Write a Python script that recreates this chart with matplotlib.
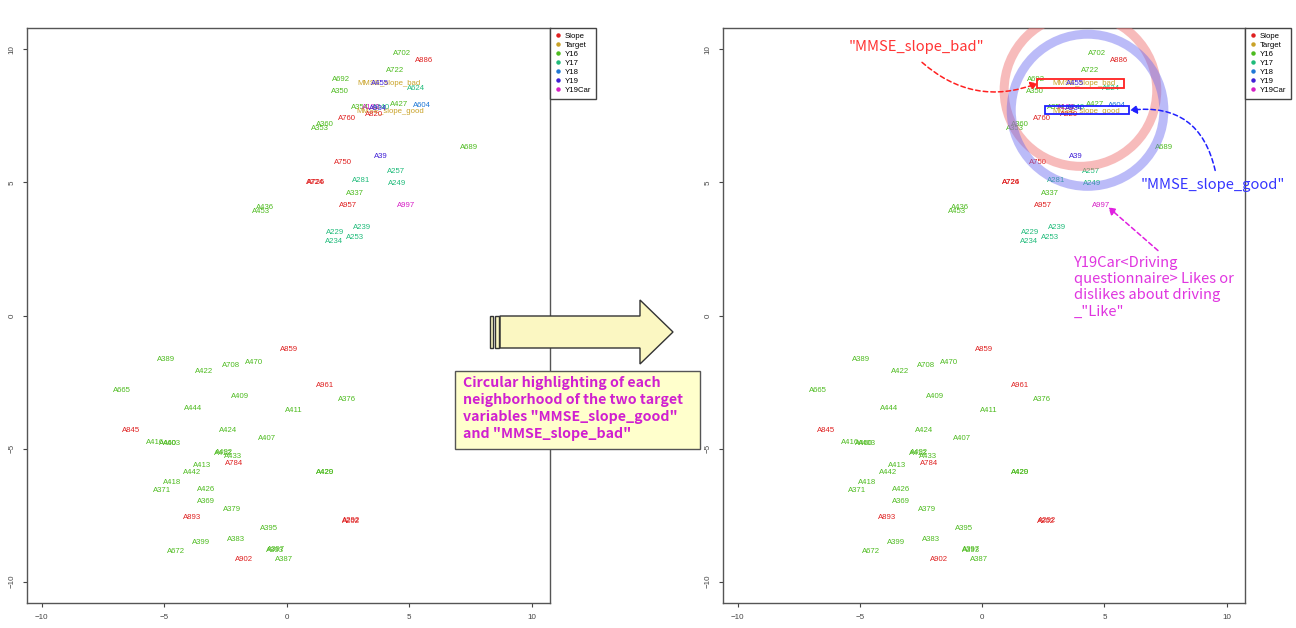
import matplotlib
matplotlib.use("Agg")
import matplotlib.pyplot as plt
from matplotlib.lines import Line2D
from matplotlib.patches import Ellipse, Rectangle, Polygon, FancyArrowPatch

plt.rcParams['font.family'] = ['Liberation Sans', 'DejaVu Sans']

# ---------------- data ----------------
groups = ["Slope", "Target", "Y16", "Y17", "Y18", "Y19", "Y19Car"]
group_colors = ["#DF2020", "#C9A227", "#4DBB1F", "#1FBB7A", "#1F78D6", "#3F1FD6", "#D61FC5"]

labels = ["A702", "A886", "A722", "A692", "MMSE_slope_bad", "A455", "A350", "A624",
          "A427", "A604", "A354", "A240", "MMSE_slope_good", "A193", "A934", "A820",
          "A760", "A360", "A353", "A689", "A39", "A750", "A257", "A724", "A726",
          "A281", "A249", "A337", "A957", "A997", "A436", "A453", "A229", "A239",
          "A234", "A253",
          "A859", "A389", "A708", "A470", "A422", "A665", "A961", "A376", "A409",
          "A444", "A411", "A845", "A424", "A407", "A416", "A460", "A403", "A432",
          "A412", "A433", "A784", "A413", "A420", "A429", "A442", "A418", "A371",
          "A426", "A369", "A379", "A893", "A292", "A202", "A395", "A399", "A383",
          "A672", "A397", "A393", "A902", "A387"]
x_vals = [4.69, 5.59, 4.41, 2.20, 4.16, 3.80, 2.16, 5.27,
          4.61, 5.51, 3.00, 3.85, 4.24, 3.45, 3.75, 3.55,
          2.45, 1.55, 1.35, 7.43, 3.84, 2.29, 4.45, 1.18, 1.20,
          3.02, 4.49, 2.78, 2.49, 4.86, -0.90, -1.05, 1.96, 3.06,
          1.92, 2.78,
          0.08, -4.94, -2.29, -1.35, -3.35, -6.73, 1.55, 2.45, -1.92,
          -3.80, 0.29, -6.37, -2.37, -0.82, -5.39, -4.85, -4.70, -2.57,
          -2.60, -2.20, -2.16, -3.47, 1.55, 1.57, -3.84, -4.69, -5.10,
          -3.31, -3.31, -2.24, -3.88, 2.65, 2.62, -0.73, -3.51, -2.08,
          -4.53, -0.45, -0.47, -1.76, -0.12]
y_vals = [9.85, 9.59, 9.21, 8.87, 8.72, 8.72, 8.42, 8.53,
          7.93, 7.89, 7.82, 7.82, 7.67, 7.80, 7.78, 7.55,
          7.41, 7.18, 7.03, 6.32, 5.98, 5.75, 5.41, 5.00, 5.00,
          5.08, 4.96, 4.59, 4.14, 4.14, 4.06, 3.92, 3.12, 3.31,
          2.78, 2.93,
          -1.28, -1.65, -1.88, -1.77, -2.11, -2.82, -2.63, -3.16, -3.05,
          -3.50, -3.57, -4.32, -4.32, -4.62, -4.77, -4.81, -4.81, -5.15,
          -5.17, -5.30, -5.56, -5.64, -5.90, -5.90, -5.90, -6.28, -6.58,
          -6.54, -6.99, -7.29, -7.59, -7.71, -7.73, -8.00, -8.53, -8.42,
          -8.87, -8.80, -8.82, -9.17, -9.17]
label_groups = ["Y16", "Slope", "Y16", "Y16", "Target", "Y19", "Y16", "Y17",
                "Y16", "Y18", "Y16", "Y17", "Target", "Y19Car", "Y19", "Slope",
                "Slope", "Y16", "Y16", "Y16", "Y19", "Slope", "Y17", "Slope", "Slope",
                "Y17", "Y17", "Y16", "Slope", "Y19Car", "Y16", "Y16", "Y17", "Y17",
                "Y17", "Y17",
                "Slope", "Y16", "Y16", "Y16", "Y16", "Y16", "Slope", "Y16", "Y16",
                "Y16", "Y16", "Slope", "Y16", "Y16", "Y16", "Y16", "Y16", "Y16",
                "Y16", "Y16", "Slope", "Y16", "Y16", "Y16", "Y16", "Y16", "Y16",
                "Y16", "Y16", "Y16", "Slope", "Slope", "Slope", "Y16", "Y16", "Y16",
                "Y16", "Y16", "Y16", "Slope", "Y16"]

x_ticks = [-10, -5, 0, 5, 10]
y_ticks = [-10, -5, 0, 5, 10]

# ---------------- figure ----------------
W, H = 1296, 628
fig = plt.figure(figsize=(W / 100, H / 100), dpi=100)
fig.patch.set_facecolor("white")

cmap = dict(zip(groups, group_colors))


def panel(rect):
    ax = fig.add_axes(rect)
    for lab, x, y, g in zip(labels, x_vals, y_vals, label_groups):
        ax.text(x, y, lab, color=cmap[g], fontsize=5.6, ha="center", va="center",
                family=["Liberation Sans", "DejaVu Sans"])
    ax.set_xlim(-10.6, 10.75)
    ax.set_ylim(-10.8, 10.8)
    ax.set_xticks(x_ticks)
    ax.set_yticks(y_ticks)
    ax.tick_params(labelsize=5.8, length=3, width=0.8, colors="#444", pad=5)
    for t in ax.get_yticklabels():
        t.set_rotation(90)
        t.set_va("center")
    for s in ax.spines.values():
        s.set_color("#555")
        s.set_linewidth(1.0)
    handles = [Line2D([], [], marker="o", ls="", color=c, markersize=2.2) for c in group_colors]
    leg = ax.legend(handles, groups, loc="upper left", bbox_to_anchor=(1.0, 1.0),
                    borderaxespad=0, fontsize=5.6, handlelength=0.8, handletextpad=0.5,
                    labelspacing=0.2, fancybox=False, framealpha=1,
                    edgecolor="#444", borderpad=0.6)
    leg.get_frame().set_linewidth(1.0)
    return ax


axL = panel([27 / W, 25 / H, 523 / W, 575 / H])
axR = panel([723 / W, 25 / H, 522 / W, 575 / H])

# ---------------- right panel highlights ----------------
sx, sy = 24.35, 26.6  # px per data unit
r_px = 76
axR.add_patch(Ellipse((4.02, 8.46), 2 * r_px / sx, 2 * r_px / sy, fill=False,
                      edgecolor="#F07878", alpha=0.5, lw=6.5, zorder=3))
axR.add_patch(Ellipse((4.31, 7.71), 2 * r_px / sx, 2 * r_px / sy, fill=False,
                      edgecolor="#6A6AF0", alpha=0.45, lw=6.5, zorder=3))
axR.add_patch(Rectangle((2.26, 8.53), 3.53, 0.34, fill=False, edgecolor="#FF2020", lw=1.3, zorder=4))
axR.add_patch(Rectangle((2.59, 7.56), 3.41, 0.30, fill=False, edgecolor="#2020FF", lw=1.3, zorder=4))

ann_font = ["Noto Sans CJK JP", "DejaVu Sans"]
axR.text(-2.67, 10.08, '"MMSE_slope_bad"', color="#FF3535", fontsize=10.6, ha="center",
         va="center", family=ann_font, clip_on=False)
axR.text(9.45, 4.89, '"MMSE_slope_good"', color="#3535FF", fontsize=10.6, ha="center",
         va="center", family=ann_font, clip_on=False)
axR.text(3.74, 2.24, 'Y19Car<Driving\nquestionnaire> Likes or\ndislikes about driving\n_"Like"',
         color="#E035E0", fontsize=10.6, ha="left", va="top", family=ann_font,
         linespacing=1.2, clip_on=False)

for (p0, p1, col, rad) in [((-2.46, 9.51), (2.26, 8.72), "#FF2020", 0.3),
                           ((9.53, 5.45), (6.05, 7.71), "#2020FF", 0.45),
                           ((7.19, 2.44), (5.17, 4.06), "#E020E0", 0.0)]:
    arr = FancyArrowPatch(p0, p1, connectionstyle=f"arc3,rad={rad}",
                          arrowstyle="-|>,head_length=4,head_width=2.5",
                          color=col, lw=1.1, linestyle=(0, (3, 2)), zorder=5,
                          clip_on=False, shrinkA=0, shrinkB=0)
    axR.add_patch(arr)

# ---------------- middle block arrow & caption ----------------
ov = fig.add_axes([0, 0, 1, 1], zorder=10)
ov.set_xlim(0, W)
ov.set_ylim(H, 0)
ov.axis("off")
ov.patch.set_alpha(0)
arrow_fill = "#FBF7C2"
ov.add_patch(Polygon([(500, 316), (640, 316), (640, 300), (673, 332), (640, 364),
                      (640, 348), (500, 348)], closed=True, facecolor=arrow_fill,
                     edgecolor="#333", lw=1.0))
ov.add_patch(Rectangle((490, 316), 3, 32, facecolor=arrow_fill, edgecolor="#333", lw=1.0))
ov.add_patch(Rectangle((494.5, 316), 4, 32, facecolor=arrow_fill, edgecolor="#333", lw=1.0))
ov.add_patch(Rectangle((455, 371), 245, 78, facecolor="#FFFFCC", edgecolor="#555", lw=1.0))
ov.text(463, 376, 'Circular highlighting of each\nneighborhood of the two target\n'
        'variables "MMSE_slope_good"\nand "MMSE_slope_bad"', color="#D020D0",
        fontsize=10.2, fontweight="bold", ha="left", va="top", family=ann_font,
        linespacing=1.27)

fig.savefig("out.png", dpi=100)
